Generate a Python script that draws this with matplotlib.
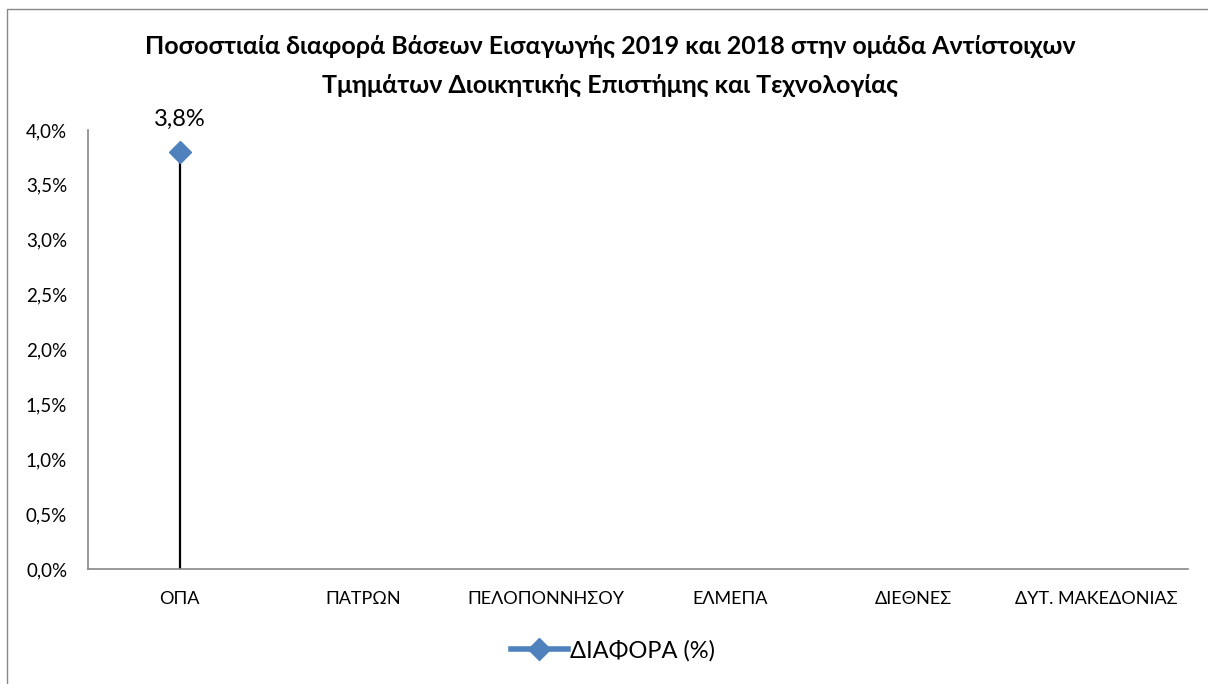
import numpy as np
import matplotlib.pyplot as plt
from matplotlib.patches import Rectangle
from matplotlib.lines import Line2D

plt.rcParams['font.family'] = ['Lato', 'Noto Sans', 'DejaVu Sans']

categories = ['ΟΠΑ', 'ΠΑΤΡΩΝ', 'ΠΕΛΟΠΟΝΝΗΣΟΥ', 'ΕΛΜΕΠΑ', 'ΔΙΕΘΝΕΣ', 'ΔΥΤ. ΜΑΚΕΔΟΝΙΑΣ']
diff_pct = [3.8, np.nan, np.nan, np.nan, np.nan, np.nan]
yticks = [0.0, 0.5, 1.0, 1.5, 2.0, 2.5, 3.0, 3.5, 4.0]
series_name = 'ΔΙΑΦΟΡΑ (%)'
title_lines = ['Ποσοστιαία διαφορά Βάσεων Εισαγωγής 2019 και 2018 στην ομάδα Αντίστοιχων',
               'Τμημάτων Διοικητικής Επιστήμης και Τεχνολογίας']

blue = '#4F81BD'
W, H = 1208, 684
fig = plt.figure(figsize=(W / 100, H / 100), dpi=100)

# chart frame (cropped at right / bottom)
fig.patches.append(Rectangle((7 / W, -0.1), 1.2, 1 - 9 / H + 0.1, transform=fig.transFigure,
                             fill=False, edgecolor='#888888', lw=1))

ax = fig.add_axes([88 / W, 1 - 569 / H, 1100 / W, (569 - 130) / H])
x = np.arange(len(categories))
y = np.array(diff_pct)

# drop lines
for xi, yi in zip(x, y):
    if not np.isnan(yi):
        ax.vlines(xi, 0, yi, color='black', lw=1.6, zorder=2)
ax.plot(x, y, color=blue, lw=4, marker='D', ms=11, mfc=blue, mec=blue, zorder=3)
for xi, yi in zip(x, y):
    if not np.isnan(yi):
        ax.annotate(f'{yi:.1f}%'.replace('.', ','), (xi, yi), xytext=(0, 16),
                    textcoords='offset points', ha='center', va='bottom', fontsize=17)

ax.set_xlim(-0.5, len(categories) - 0.5)
ax.set_ylim(0, 4.0)
ax.set_yticks(yticks)
ax.set_yticklabels([f'{t:.1f}%'.replace('.', ',') for t in yticks])
ax.set_xticks(x)
ax.set_xticklabels(categories)
ax.tick_params(axis='y', length=0, pad=15, labelsize=13.5)
ax.tick_params(axis='x', length=0, pad=16, labelsize=13)
for s in ['top', 'right']:
    ax.spines[s].set_visible(False)
for s in ['left', 'bottom']:
    ax.spines[s].set_color('#888888')
    ax.spines[s].set_linewidth(1.2)

fig.text(610 / W, 1 - 46 / H, title_lines[0], ha='center', va='center', fontsize=18, fontweight='bold')
fig.text(610 / W, 1 - 85 / H, title_lines[1], ha='center', va='center', fontsize=18, fontweight='bold')

handle = Line2D([], [], color=blue, lw=4, marker='D', ms=11, mfc=blue, mec=blue)
fig.legend([handle], [series_name], loc='center', bbox_to_anchor=(613 / W, 1 - 651 / H),
           frameon=False, fontsize=17, handlelength=2.4, handletextpad=0.1)

fig.savefig('out.png', dpi=100)
